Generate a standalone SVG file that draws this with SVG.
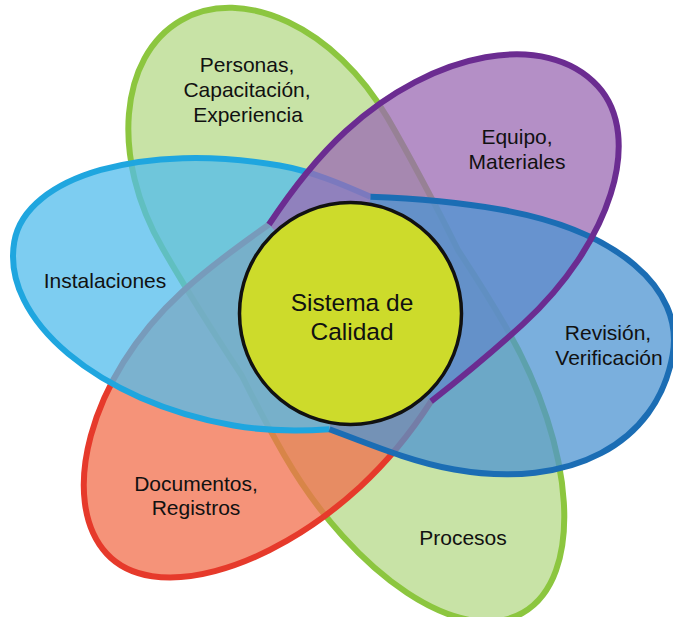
<svg xmlns="http://www.w3.org/2000/svg" xmlns:xlink="http://www.w3.org/1999/xlink" width="673" height="617" viewBox="0 0 673 617">
<style>
.lbl{font-family:"Liberation Sans",Arial,sans-serif;font-size:21px;fill:#111;text-anchor:middle}
.ctr{font-family:"Liberation Sans",Arial,sans-serif;font-size:24.5px;fill:#111;text-anchor:middle}
.pet{stroke-width:6;stroke-linejoin:round;fill-opacity:0.75}
</style>
<defs>
<path id="pPurple" d="M0,-120 C40,-130 80,-137 120,-137 C239,-137 336,-76 336,0 C336,69 239,125 120,125 C80,125 40,123 0,120"/>
</defs>
<rect width="673" height="617" fill="#fff"/>
<g id="node-personas-procesos">
<path class="pet" fill="#b6da88" stroke="#8cc63f" transform="translate(350,313) rotate(60)" d="M0,-125 C30,-126.8 60,-128 90,-128 C231,-128 346,-70.7 346,0 C346,70.7 231,128 90,128 C60,128 30,126.8 0,125 C-50,128 -100,130 -150,130 C-253.8,130 -338,71.8 -338,0 C-338,-71.8 -253.8,-130 -150,-130 C-100,-130 -50,-128 0,-125 Z"/>
<text class="lbl" x="247" y="72">Personas,</text>
<text class="lbl" x="247" y="97">Capacitación,</text>
<text class="lbl" x="248" y="122">Experiencia</text>
<text class="lbl" x="463" y="545">Procesos</text>
</g>
<g id="node-documentos">
<path class="pet" fill="#f26f4c" stroke="#e63a2b" transform="translate(350,313) rotate(137.5)" d="M0,-120 C36.7,-129.6 73.3,-135 110,-135 C238,-135 342,-80 342,-13 C342,58 238,129 110,129 C73.3,129 36.7,124.8 0,120"/>
<text class="lbl" x="196" y="491">Documentos,</text>
<text class="lbl" x="196" y="515">Registros</text>
</g>
<g id="node-instalaciones">
<path class="pet" fill="#52bcec" stroke="#1fa6df" transform="translate(350,313) rotate(190)" d="M0,-118 C31.7,-126 63.3,-131 95,-131 C231.9,-131 343,-66.9 343,12 C343,78.8 231.9,133 95,133 C63.3,133 31.7,126 0,118"/>
<text class="lbl" x="105" y="288">Instalaciones</text>
</g>
<g id="node-equipo">
<use xlink:href="#pPurple" href="#pPurple" class="pet" fill="#9b6ab3" stroke="none" transform="translate(350,313) rotate(-42.5)"/>
<text class="lbl" x="517" y="144">Equipo,</text>
<text class="lbl" x="517" y="169">Materiales</text>
</g>
<g id="node-revision">
<path class="pet" fill="#4e94d2" fill-opacity="0.8" stroke="#1b6db4" transform="translate(350,313) rotate(10)" d="M0,-118 C43.3,-124 86.7,-128 130,-128 C247.6,-128 325,-82.8 325,-15 C325,75.6 247.6,136 130,136 C86.7,136 43.3,126 0,118"/>
<text class="lbl" x="608" y="340">Revisión,</text>
<text class="lbl" x="609" y="365">Verificación</text>
</g>
<g id="connectors">
<use xlink:href="#pPurple" href="#pPurple" fill="none" stroke="#6b2c91" stroke-width="6" transform="translate(350,313) rotate(-42.5)"/>
</g>
<g id="node-sistema">
<circle cx="350.5" cy="313.5" r="111" fill="#cddb2b" stroke="#111" stroke-width="3.5"/>
<text class="ctr" x="352" y="311">Sistema de</text>
<text class="ctr" x="352" y="340">Calidad</text>
</g>
</svg>
